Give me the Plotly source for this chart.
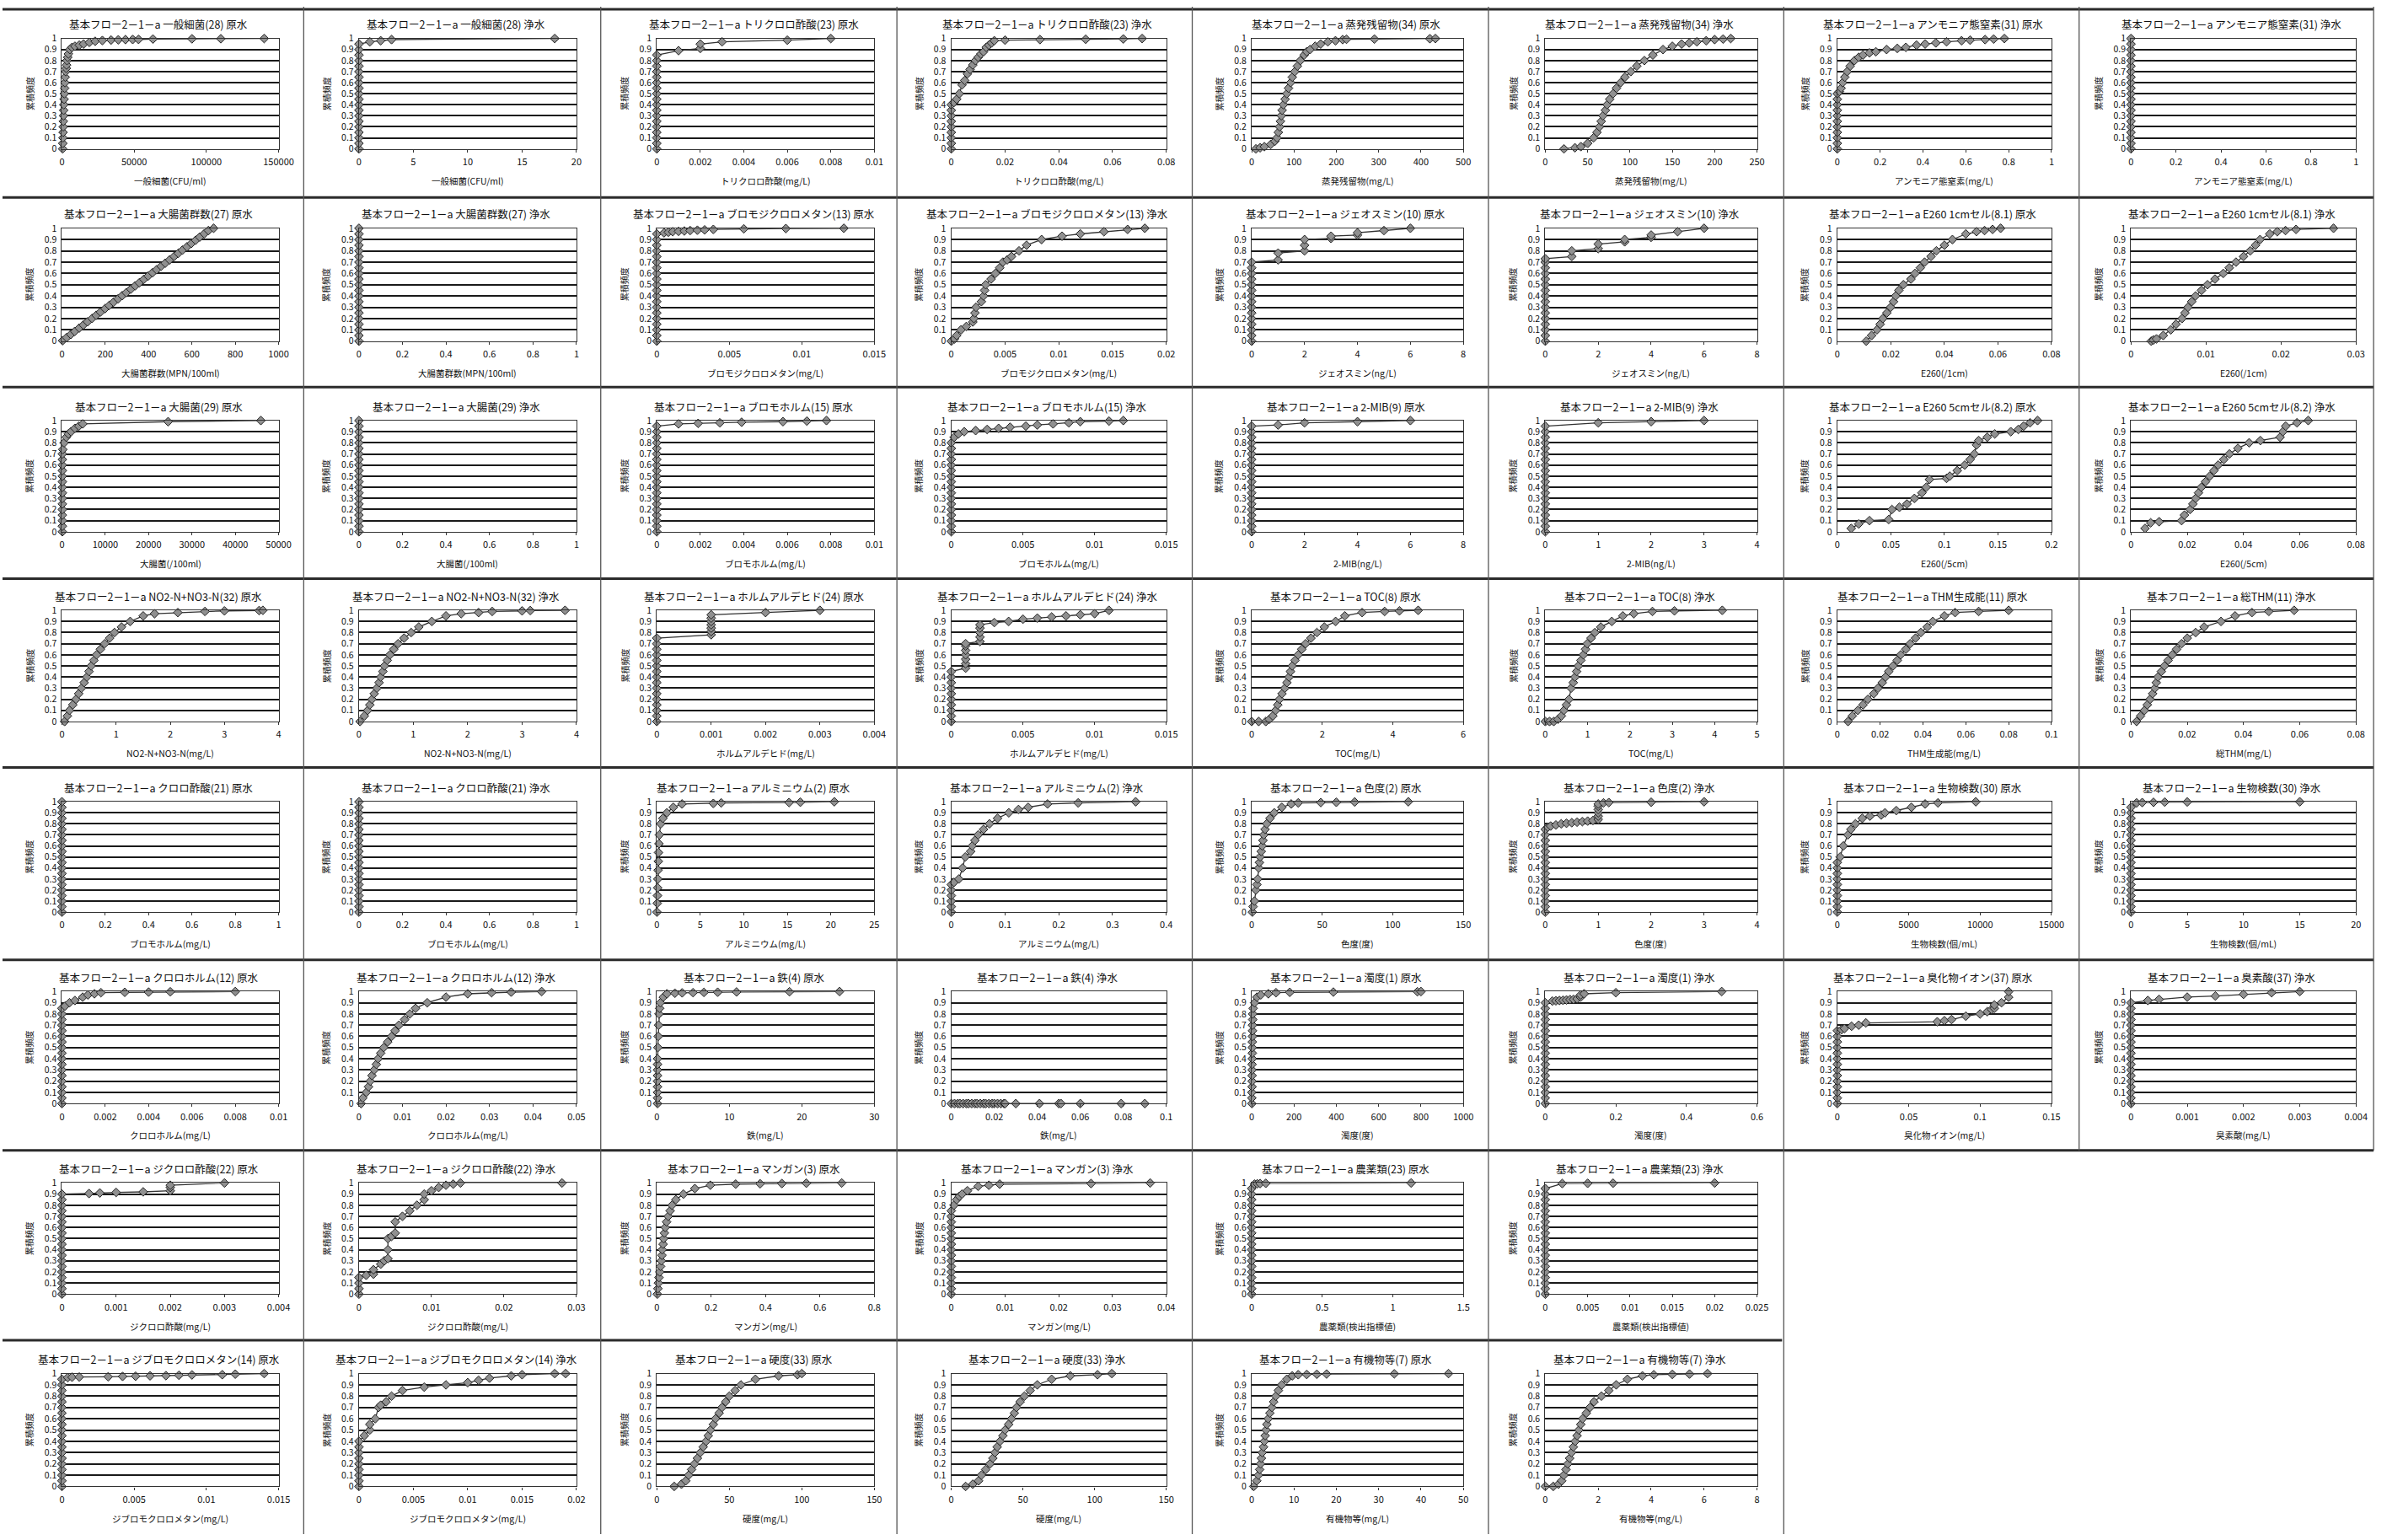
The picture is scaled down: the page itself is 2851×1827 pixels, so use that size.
import plotly.graph_objects as go

# ---------------- DATA ----------------
PREFIX = "基本フロー2－1－a "

TITLES = [
    "一般細菌(28) 原水", "一般細菌(28) 浄水", "トリクロロ酢酸(23) 原水", "トリクロロ酢酸(23) 浄水",
    "蒸発残留物(34) 原水", "蒸発残留物(34) 浄水", "アンモニア態窒素(31) 原水", "アンモニア態窒素(31) 浄水",
    "大腸菌群数(27) 原水", "大腸菌群数(27) 浄水", "ブロモジクロロメタン(13) 原水", "ブロモジクロロメタン(13) 浄水",
    "ジェオスミン(10) 原水", "ジェオスミン(10) 浄水", "E260 1cmセル(8.1) 原水", "E260 1cmセル(8.1) 浄水",
    "大腸菌(29) 原水", "大腸菌(29) 浄水", "ブロモホルム(15) 原水", "ブロモホルム(15) 浄水",
    "2-MIB(9) 原水", "2-MIB(9) 浄水", "E260 5cmセル(8.2) 原水", "E260 5cmセル(8.2) 浄水",
    "NO2-N+NO3-N(32) 原水", "NO2-N+NO3-N(32) 浄水", "ホルムアルデヒド(24) 原水", "ホルムアルデヒド(24) 浄水",
    "TOC(8) 原水", "TOC(8) 浄水", "THM生成能(11) 原水", "総THM(11) 浄水",
    "クロロ酢酸(21) 原水", "クロロ酢酸(21) 浄水", "アルミニウム(2) 原水", "アルミニウム(2) 浄水",
    "色度(2) 原水", "色度(2) 浄水", "生物検数(30) 原水", "生物検数(30) 浄水",
    "クロロホルム(12) 原水", "クロロホルム(12) 浄水", "鉄(4) 原水", "鉄(4) 浄水",
    "濁度(1) 原水", "濁度(1) 浄水", "臭化物イオン(37) 原水", "臭素酸(37) 浄水",
    "ジクロロ酢酸(22) 原水", "ジクロロ酢酸(22) 浄水", "マンガン(3) 原水", "マンガン(3) 浄水",
    "農薬類(23) 原水", "農薬類(23) 浄水",
    "ジブロモクロロメタン(14) 原水", "ジブロモクロロメタン(14) 浄水", "硬度(33) 原水", "硬度(33) 浄水",
    "有機物等(7) 原水", "有機物等(7) 浄水",
]

XLABELS = [
    "一般細菌(CFU/ml)", "一般細菌(CFU/ml)", "トリクロロ酢酸(mg/L)", "トリクロロ酢酸(mg/L)",
    "蒸発残留物(mg/L)", "蒸発残留物(mg/L)", "アンモニア態窒素(mg/L)", "アンモニア態窒素(mg/L)",
    "大腸菌群数(MPN/100ml)", "大腸菌群数(MPN/100ml)", "ブロモジクロロメタン(mg/L)", "ブロモジクロロメタン(mg/L)",
    "ジェオスミン(ng/L)", "ジェオスミン(ng/L)", "E260(/1cm)", "E260(/1cm)",
    "大腸菌(/100ml)", "大腸菌(/100ml)", "ブロモホルム(mg/L)", "ブロモホルム(mg/L)",
    "2-MIB(ng/L)", "2-MIB(ng/L)", "E260(/5cm)", "E260(/5cm)",
    "NO2-N+NO3-N(mg/L)", "NO2-N+NO3-N(mg/L)", "ホルムアルデヒド(mg/L)", "ホルムアルデヒド(mg/L)",
    "TOC(mg/L)", "TOC(mg/L)", "THM生成能(mg/L)", "総THM(mg/L)",
    "ブロモホルム(mg/L)", "ブロモホルム(mg/L)", "アルミニウム(mg/L)", "アルミニウム(mg/L)",
    "色度(度)", "色度(度)", "生物検数(個/mL)", "生物検数(個/mL)",
    "クロロホルム(mg/L)", "クロロホルム(mg/L)", "鉄(mg/L)", "鉄(mg/L)",
    "濁度(度)", "濁度(度)", "臭化物イオン(mg/L)", "臭素酸(mg/L)",
    "ジクロロ酢酸(mg/L)", "ジクロロ酢酸(mg/L)", "マンガン(mg/L)", "マンガン(mg/L)",
    "農薬類(検出指標値)", "農薬類(検出指標値)",
    "ジブロモクロロメタン(mg/L)", "ジブロモクロロメタン(mg/L)", "硬度(mg/L)", "硬度(mg/L)",
    "有機物等(mg/L)", "有機物等(mg/L)",
]

XMAX = [
    150000, 20, 0.01, 0.08, 500, 250, 1, 1,
    1000, 1, 0.015, 0.02, 8, 8, 0.08, 0.03,
    50000, 1, 0.01, 0.015, 8, 4, 0.2, 0.08,
    4, 4, 0.004, 0.015, 6, 5, 0.1, 0.08,
    1, 1, 25, 0.4, 150, 4, 15000, 20,
    0.01, 0.05, 30, 0.1, 1000, 0.6, 0.15, 0.004,
    0.004, 0.03, 0.8, 0.04, 1.5, 0.025,
    0.015, 0.02, 150, 150, 50, 8,
]

XDTICK = [
    50000, 5, 0.002, 0.02, 100, 50, 0.2, 0.2,
    200, 0.2, 0.005, 0.005, 2, 2, 0.02, 0.01,
    10000, 0.2, 0.002, 0.005, 2, 1, 0.05, 0.02,
    1, 1, 0.001, 0.005, 2, 1, 0.02, 0.02,
    0.2, 0.2, 5, 0.1, 50, 1, 5000, 5,
    0.002, 0.01, 10, 0.02, 200, 0.2, 0.05, 0.001,
    0.001, 0.01, 0.2, 0.01, 0.5, 0.005,
    0.005, 0.005, 50, 50, 10, 2,
]

# ---- row 1 ----
R1C1_X = [500, 600, 700, 800, 900, 1000, 1100, 1200, 1300, 1500, 1700, 1900, 2100, 2300, 2600, 3000, 3200, 3500, 4000, 4500,
          5500, 7000, 9000, 12000, 15000, 19000, 23000, 28000, 34000, 39000, 44000, 49000, 53000, 63000, 90000, 110000, 140000]
R1C1_Y = [0.0, 0.05, 0.1, 0.15, 0.2, 0.25, 0.3, 0.35, 0.4, 0.45, 0.5, 0.55, 0.6, 0.65, 0.7, 0.73, 0.76, 0.8, 0.83, 0.86,
          0.9, 0.92, 0.93, 0.94, 0.95, 0.965, 0.975, 0.982, 0.986, 0.988, 0.99, 0.991, 0.992, 0.995, 0.997, 0.998, 1.0]

R1C2_X = [0, 0, 0, 0, 0, 0, 0, 0, 0, 0, 0, 0, 0, 0, 0, 0, 0, 0, 0, 0, 1, 2, 3, 18]
R1C2_Y = [0.0, 0.05, 0.1, 0.15, 0.2, 0.25, 0.3, 0.35, 0.4, 0.45, 0.5, 0.55, 0.6, 0.65, 0.7, 0.75, 0.8, 0.85, 0.9, 0.95,
          0.97, 0.98, 0.99, 1.0]

R1C3_X = [0, 0, 0, 0, 0, 0, 0, 0, 0, 0, 0, 0, 0, 0, 0, 0, 0, 0, 0.001, 0.002, 0.002, 0.003, 0.006, 0.008]
R1C3_Y = [0.0, 0.05, 0.1, 0.15, 0.2, 0.25, 0.3, 0.35, 0.4, 0.45, 0.5, 0.55, 0.6, 0.65, 0.7, 0.75, 0.8, 0.85,
          0.89, 0.91, 0.95, 0.97, 0.985, 1.0]

R1C4_X = [0, 0, 0, 0, 0, 0, 0, 0, 0, 0.001, 0.002, 0.003, 0.004, 0.005, 0.006, 0.007, 0.008, 0.009, 0.01, 0.011,
          0.012, 0.013, 0.014, 0.015, 0.016, 0.02, 0.033, 0.05, 0.064, 0.071]
R1C4_Y = [0.0, 0.05, 0.1, 0.15, 0.2, 0.25, 0.3, 0.35, 0.4, 0.42, 0.45, 0.5, 0.58, 0.62, 0.68, 0.72, 0.76, 0.8, 0.83, 0.86,
          0.88, 0.92, 0.94, 0.96, 0.98, 0.985, 0.99, 0.993, 0.996, 1.0]

R1C5_X = [10, 20, 30, 45, 55, 60, 63, 66, 68, 70, 72, 75, 79, 83, 87, 92, 96, 102, 108, 115,
          124, 130, 138, 150, 163, 180, 198, 215, 224, 290, 421, 434]
R1C5_Y = [0.0, 0.01, 0.02, 0.04, 0.07, 0.1, 0.15, 0.2, 0.25, 0.3, 0.35, 0.4, 0.45, 0.5, 0.55, 0.6, 0.65, 0.7, 0.75, 0.8,
          0.85, 0.88, 0.9, 0.93, 0.95, 0.97, 0.98, 0.99, 0.993, 0.995, 0.998, 1.0]

R1C6_X = [22, 35, 42, 50, 57, 61, 64, 66, 68, 71, 73, 76, 80, 84, 89, 94, 101, 108, 117, 127,
          139, 150, 161, 170, 179, 190, 200, 210, 219]
R1C6_Y = [0.0, 0.01, 0.02, 0.05, 0.1, 0.15, 0.2, 0.25, 0.3, 0.35, 0.4, 0.45, 0.5, 0.55, 0.6, 0.65, 0.7, 0.75, 0.8, 0.85,
          0.9, 0.93, 0.95, 0.96, 0.97, 0.98, 0.99, 0.995, 1.0]

R1C7_X = [0, 0, 0, 0, 0, 0, 0, 0, 0, 0, 0, 0.01, 0.018, 0.025, 0.035, 0.046, 0.06, 0.08, 0.1, 0.12,
          0.15, 0.18, 0.23, 0.28, 0.32, 0.37, 0.41, 0.46, 0.51, 0.58, 0.62, 0.69, 0.73, 0.78]
R1C7_Y = [0.0, 0.05, 0.1, 0.15, 0.2, 0.25, 0.3, 0.35, 0.4, 0.45, 0.5, 0.52, 0.55, 0.6, 0.65, 0.7, 0.75, 0.8, 0.83, 0.85,
          0.87, 0.88, 0.9, 0.91, 0.92, 0.94, 0.95, 0.96, 0.97, 0.98, 0.985, 0.99, 0.995, 1.0]

R1C8_X = [0, 0, 0, 0, 0, 0, 0, 0, 0, 0, 0, 0, 0, 0, 0, 0, 0, 0, 0, 0, 0]
R1C8_Y = [0.0, 0.05, 0.1, 0.15, 0.2, 0.25, 0.3, 0.35, 0.4, 0.45, 0.5, 0.55, 0.6, 0.65, 0.7, 0.75, 0.8, 0.85, 0.9, 0.95, 1.0]

# ---- row 2 ----
R2C1_X = [3, 22, 41, 59, 80, 99, 118, 139, 158, 178, 199, 218, 238, 259, 278, 297, 318, 338, 357, 378,
          398, 418, 437, 458, 477, 497, 518, 537, 556, 577, 597, 617, 636, 657, 676, 700]
R2C1_Y = [0.004, 0.032, 0.059, 0.086, 0.116, 0.143, 0.171, 0.201, 0.229, 0.258, 0.288, 0.316, 0.345, 0.375, 0.403, 0.43,
          0.461, 0.49, 0.517, 0.548, 0.577, 0.606, 0.633, 0.664, 0.691, 0.72, 0.751, 0.778, 0.806, 0.836,
          0.865, 0.894, 0.922, 0.952, 0.98, 1.0]

R2C2_X = [0, 0, 0, 0, 0, 0, 0, 0, 0, 0, 0, 0, 0, 0, 0, 0, 0, 0, 0, 0, 0]
R2C2_Y = [0.0, 0.05, 0.1, 0.15, 0.2, 0.25, 0.3, 0.35, 0.4, 0.45, 0.5, 0.55, 0.6, 0.65, 0.7, 0.75, 0.8, 0.85, 0.9, 0.95, 1.0]

R2C3_X = [0, 0, 0, 0, 0, 0, 0, 0, 0, 0, 0, 0, 0, 0, 0, 0, 0, 0, 0, 0,
          0.0005, 0.0008, 0.0011, 0.0015, 0.0019, 0.0023, 0.0028, 0.0033, 0.0039, 0.006, 0.0089, 0.0129]
R2C3_Y = [0.0, 0.05, 0.1, 0.15, 0.2, 0.25, 0.3, 0.35, 0.4, 0.45, 0.5, 0.55, 0.6, 0.65, 0.7, 0.75, 0.8, 0.85, 0.9, 0.95,
          0.96, 0.965, 0.97, 0.973, 0.976, 0.98, 0.983, 0.986, 0.99, 0.995, 0.998, 1.0]

R2C4_X = [0, 0.0003, 0.0005, 0.0009, 0.0014, 0.002, 0.0021, 0.0022, 0.0023, 0.0028, 0.003, 0.0031, 0.0032, 0.0037, 0.0041,
          0.0045, 0.0048, 0.0052, 0.0056, 0.0063, 0.007, 0.0084, 0.0103, 0.012, 0.0142, 0.0164, 0.018]
R2C4_Y = [0.0, 0.02, 0.05, 0.1, 0.13, 0.17, 0.2, 0.25, 0.3, 0.35, 0.4, 0.45, 0.5, 0.55, 0.6,
          0.65, 0.7, 0.72, 0.75, 0.8, 0.85, 0.9, 0.93, 0.95, 0.97, 0.99, 1.0]

R2C5_X = [0, 0, 0, 0, 0, 0, 0, 0, 0, 0, 0, 0, 0, 0, 0, 1, 1, 2, 2, 2, 3, 3, 4, 4, 5, 6]
R2C5_Y = [0.0, 0.05, 0.1, 0.15, 0.2, 0.25, 0.3, 0.35, 0.4, 0.45, 0.5, 0.55, 0.6, 0.65, 0.7,
          0.72, 0.78, 0.8, 0.85, 0.9, 0.91, 0.93, 0.94, 0.96, 0.98, 1.0]

R2C6_X = [0, 0, 0, 0, 0, 0, 0, 0, 0, 0, 0, 0, 0, 0, 0, 0, 1, 1, 2, 2, 3, 3, 4, 4, 5, 6]
R2C6_Y = [0.0, 0.05, 0.1, 0.15, 0.2, 0.25, 0.3, 0.35, 0.4, 0.45, 0.5, 0.55, 0.6, 0.65, 0.7, 0.73,
          0.75, 0.8, 0.82, 0.86, 0.88, 0.9, 0.92, 0.94, 0.97, 1.0]

R2C7_X = [0.0108, 0.0128, 0.0148, 0.016, 0.017, 0.0185, 0.0199, 0.021, 0.0218, 0.023, 0.0247, 0.0275, 0.029, 0.031,
          0.0326, 0.035, 0.037, 0.04, 0.043, 0.048, 0.052, 0.055, 0.058, 0.061]
R2C7_Y = [0.0, 0.05, 0.1, 0.15, 0.2, 0.25, 0.3, 0.35, 0.4, 0.45, 0.5, 0.55, 0.6, 0.65,
          0.7, 0.75, 0.8, 0.85, 0.9, 0.95, 0.97, 0.98, 0.99, 1.0]

R2C8_X = [0.0027, 0.003, 0.0034, 0.0043, 0.0053, 0.006, 0.0068, 0.0072, 0.0076, 0.0081, 0.0086, 0.0094, 0.0102,
          0.0112, 0.0123, 0.0131, 0.014, 0.015, 0.0159, 0.0166, 0.0172, 0.0185, 0.0195, 0.0206, 0.022, 0.027]
R2C8_Y = [0.0, 0.01, 0.02, 0.05, 0.1, 0.15, 0.2, 0.25, 0.3, 0.35, 0.4, 0.45, 0.5,
          0.55, 0.6, 0.65, 0.7, 0.75, 0.8, 0.85, 0.9, 0.95, 0.97, 0.98, 0.99, 1.0]

# ---- row 3 ----
R3C1_X = [100, 100, 100, 100, 100, 100, 100, 100, 100, 100, 100, 100, 100, 100, 100,
          200, 500, 1000, 1500, 2100, 3000, 3900, 4800, 24500, 45900]
R3C1_Y = [0.0, 0.05, 0.1, 0.15, 0.2, 0.25, 0.3, 0.35, 0.4, 0.45, 0.5, 0.55, 0.6, 0.65, 0.7,
          0.74, 0.8, 0.85, 0.88, 0.9, 0.93, 0.95, 0.97, 0.99, 1.0]

R3C2_X = [0, 0, 0, 0, 0, 0, 0, 0, 0, 0, 0, 0, 0, 0, 0, 0, 0, 0, 0, 0, 0]
R3C2_Y = [0.0, 0.05, 0.1, 0.15, 0.2, 0.25, 0.3, 0.35, 0.4, 0.45, 0.5, 0.55, 0.6, 0.65, 0.7, 0.75, 0.8, 0.85, 0.9, 0.95, 1.0]

R3C3_X = [0, 0, 0, 0, 0, 0, 0, 0, 0, 0, 0, 0, 0, 0, 0, 0, 0, 0, 0, 0,
          0.001, 0.0019, 0.0029, 0.0039, 0.0058, 0.0069, 0.0078]
R3C3_Y = [0.0, 0.05, 0.1, 0.15, 0.2, 0.25, 0.3, 0.35, 0.4, 0.45, 0.5, 0.55, 0.6, 0.65, 0.7, 0.75, 0.8, 0.85, 0.9, 0.95,
          0.97, 0.975, 0.98, 0.985, 0.99, 0.995, 1.0]

R3C4_X = [0, 0, 0, 0, 0, 0, 0, 0, 0, 0, 0, 0, 0, 0, 0, 0, 0,
          0.0002, 0.0005, 0.0009, 0.0017, 0.0025, 0.0033, 0.0041, 0.0052, 0.006, 0.0071, 0.0082, 0.009, 0.011, 0.012]
R3C4_Y = [0.0, 0.05, 0.1, 0.15, 0.2, 0.25, 0.3, 0.35, 0.4, 0.45, 0.5, 0.55, 0.6, 0.65, 0.7, 0.75, 0.8,
          0.85, 0.88, 0.9, 0.91, 0.92, 0.93, 0.94, 0.95, 0.96, 0.97, 0.98, 0.99, 0.995, 1.0]

R3C5_X = [0, 0, 0, 0, 0, 0, 0, 0, 0, 0, 0, 0, 0, 0, 0, 0, 0, 0, 0, 0, 1, 2, 4, 6]
R3C5_Y = [0.0, 0.05, 0.1, 0.15, 0.2, 0.25, 0.3, 0.35, 0.4, 0.45, 0.5, 0.55, 0.6, 0.65, 0.7, 0.75, 0.8, 0.85, 0.9, 0.95,
          0.96, 0.98, 0.99, 1.0]

R3C6_X = [0, 0, 0, 0, 0, 0, 0, 0, 0, 0, 0, 0, 0, 0, 0, 0, 0, 0, 0, 0, 1, 2, 3]
R3C6_Y = [0.0, 0.05, 0.1, 0.15, 0.2, 0.25, 0.3, 0.35, 0.4, 0.45, 0.5, 0.55, 0.6, 0.65, 0.7, 0.75, 0.8, 0.85, 0.9, 0.95,
          0.98, 0.99, 1.0]

R3C7_X = [0.013, 0.02, 0.03, 0.048, 0.051, 0.058, 0.065, 0.072, 0.079, 0.083, 0.086, 0.102, 0.105, 0.112, 0.119,
          0.124, 0.128, 0.13, 0.132, 0.14, 0.147, 0.162, 0.169, 0.174, 0.18, 0.187]
R3C7_Y = [0.03, 0.07, 0.1, 0.11, 0.2, 0.22, 0.25, 0.3, 0.35, 0.4, 0.47, 0.48, 0.5, 0.55, 0.6,
          0.65, 0.7, 0.78, 0.82, 0.85, 0.88, 0.9, 0.92, 0.95, 0.98, 1.0]

R3C8_X = [0.005, 0.007, 0.01, 0.018, 0.019, 0.021, 0.022, 0.023, 0.024, 0.025, 0.0265, 0.028, 0.0295, 0.031, 0.033,
          0.035, 0.038, 0.042, 0.046, 0.053, 0.054, 0.055, 0.059, 0.063]
R3C8_Y = [0.03, 0.08, 0.09, 0.1, 0.15, 0.2, 0.25, 0.3, 0.35, 0.4, 0.45, 0.5, 0.55, 0.6, 0.65,
          0.7, 0.75, 0.8, 0.82, 0.85, 0.9, 0.95, 0.98, 1.0]

# ---- row 4 ----
R4C1_X = [0.05, 0.1, 0.14, 0.2, 0.26, 0.31, 0.36, 0.41, 0.46, 0.5, 0.54, 0.59, 0.64, 0.71, 0.79, 0.88, 0.97, 1.1,
          1.26, 1.5, 1.71, 2.14, 2.64, 3.0, 3.64, 3.71]
R4C1_Y = [0.0, 0.05, 0.1, 0.15, 0.2, 0.25, 0.3, 0.35, 0.4, 0.45, 0.5, 0.55, 0.6, 0.65, 0.7, 0.75, 0.8, 0.85,
          0.9, 0.95, 0.97, 0.98, 0.99, 0.995, 0.998, 1.0]

R4C2_X = [0.02, 0.1, 0.16, 0.2, 0.24, 0.28, 0.33, 0.37, 0.4, 0.44, 0.47, 0.52, 0.57, 0.64, 0.72, 0.83, 0.96, 1.1,
          1.34, 1.6, 1.88, 2.2, 2.45, 3.0, 3.15, 3.79]
R4C2_Y = [0.0, 0.05, 0.1, 0.15, 0.2, 0.25, 0.3, 0.35, 0.4, 0.45, 0.5, 0.55, 0.6, 0.65, 0.7, 0.75, 0.8, 0.85,
          0.9, 0.95, 0.97, 0.98, 0.99, 0.995, 0.998, 1.0]

R4C3_X = [0, 0, 0, 0, 0, 0, 0, 0, 0, 0, 0, 0, 0, 0, 0, 0,
          0.001, 0.001, 0.001, 0.001, 0.001, 0.001, 0.001, 0.002, 0.003]
R4C3_Y = [0.0, 0.05, 0.1, 0.15, 0.2, 0.25, 0.3, 0.35, 0.4, 0.45, 0.5, 0.55, 0.6, 0.65, 0.7, 0.75,
          0.78, 0.81, 0.84, 0.87, 0.9, 0.93, 0.96, 0.98, 1.0]

R4C4_X = [0, 0, 0, 0, 0, 0, 0, 0, 0, 0,
          0.001, 0.001, 0.001, 0.001, 0.001, 0.001, 0.001, 0.002, 0.002, 0.002, 0.002, 0.002,
          0.003, 0.004, 0.005, 0.006, 0.007, 0.008, 0.009, 0.01, 0.011]
R4C4_Y = [0.0, 0.05, 0.1, 0.15, 0.2, 0.25, 0.3, 0.35, 0.4, 0.45,
          0.48, 0.52, 0.56, 0.6, 0.64, 0.68, 0.7, 0.72, 0.76, 0.8, 0.84, 0.87,
          0.89, 0.9, 0.92, 0.93, 0.94, 0.95, 0.96, 0.97, 1.0]

R4C5_X = [0, 0.2, 0.4, 0.5, 0.6, 0.68, 0.74, 0.79, 0.86, 0.94, 1.0, 1.06, 1.1, 1.15, 1.23, 1.32, 1.42, 1.53, 1.68,
          1.85, 2.06, 2.38, 2.64, 3.13, 3.77, 4.19, 4.72]
R4C5_Y = [0.0, 0.0, 0.0, 0.02, 0.05, 0.1, 0.15, 0.2, 0.25, 0.3, 0.35, 0.4, 0.45, 0.5, 0.55, 0.6, 0.65, 0.7, 0.75,
          0.8, 0.85, 0.9, 0.95, 0.98, 0.99, 0.995, 1.0]

R4C6_X = [0, 0.1, 0.2, 0.3, 0.38, 0.44, 0.5, 0.56, 0.61, 0.66, 0.7, 0.74, 0.78, 0.84, 0.9, 0.95, 0.99, 1.08, 1.17,
          1.31, 1.57, 1.83, 2.09, 2.53, 3.05, 4.18]
R4C6_Y = [0.0, 0.0, 0.0, 0.02, 0.05, 0.1, 0.15, 0.2, 0.3, 0.35, 0.4, 0.45, 0.5, 0.55, 0.6, 0.65, 0.7, 0.75, 0.8,
          0.85, 0.9, 0.95, 0.97, 0.99, 0.995, 1.0]

R4C7_X = [0.005, 0.007, 0.0096, 0.012, 0.0143, 0.017, 0.019, 0.021, 0.0225, 0.024, 0.026, 0.028, 0.0296, 0.032,
          0.034, 0.0365, 0.039, 0.042, 0.0446, 0.05, 0.055, 0.066, 0.08]
R4C7_Y = [0.0, 0.05, 0.1, 0.15, 0.2, 0.25, 0.3, 0.35, 0.4, 0.45, 0.5, 0.55, 0.6, 0.65,
          0.7, 0.75, 0.8, 0.85, 0.9, 0.95, 0.98, 0.99, 1.0]

R4C8_X = [0.002, 0.0034, 0.0048, 0.0058, 0.0068, 0.0077, 0.0085, 0.009, 0.0096, 0.0108, 0.0119, 0.0132, 0.0147,
          0.0162, 0.018, 0.02, 0.023, 0.026, 0.032, 0.037, 0.043, 0.049, 0.058]
R4C8_Y = [0.0, 0.05, 0.1, 0.15, 0.2, 0.25, 0.3, 0.35, 0.4, 0.45, 0.5, 0.55, 0.6,
          0.65, 0.7, 0.75, 0.8, 0.85, 0.9, 0.95, 0.98, 0.99, 1.0]

# ---- row 5 ----
R5C1_X = [0, 0, 0, 0, 0, 0, 0, 0, 0, 0, 0, 0, 0, 0, 0, 0, 0, 0, 0, 0, 0]
R5C1_Y = [0.0, 0.05, 0.1, 0.15, 0.2, 0.25, 0.3, 0.35, 0.4, 0.45, 0.5, 0.55, 0.6, 0.65, 0.7, 0.75, 0.8, 0.85, 0.9, 0.95, 1.0]

R5C2_X = [0, 0, 0, 0, 0, 0, 0, 0, 0, 0, 0, 0, 0, 0, 0, 0, 0, 0, 0, 0, 0]
R5C2_Y = [0.0, 0.05, 0.1, 0.15, 0.2, 0.25, 0.3, 0.35, 0.4, 0.45, 0.5, 0.55, 0.6, 0.65, 0.7, 0.75, 0.8, 0.85, 0.9, 0.95, 1.0]

R5C3_X = [0.02, 0.05, 0.08, 0.1, 0.12, 0.15, 0.18, 0.2, 0.25, 0.3, 0.45, 0.7, 1.16, 1.9, 2.9, 6.5, 7.4, 15.2, 16.5, 20.4]
R5C3_Y = [0.0, 0.08, 0.15, 0.22, 0.3, 0.38, 0.46, 0.54, 0.62, 0.7, 0.8, 0.85, 0.9, 0.95, 0.98, 0.985, 0.99, 0.993,
          0.996, 1.0]

R5C4_X = [0, 0, 0, 0, 0, 0, 0.005, 0.014, 0.021, 0.026, 0.036, 0.039, 0.044, 0.05, 0.06, 0.071, 0.086, 0.107, 0.125,
          0.143, 0.179, 0.236, 0.343]
R5C4_Y = [0.0, 0.05, 0.1, 0.15, 0.2, 0.25, 0.27, 0.3, 0.4, 0.5, 0.55, 0.6, 0.65, 0.7, 0.75, 0.8, 0.85, 0.9, 0.93,
          0.95, 0.98, 0.99, 1.0]

R5C5_X = [0.5, 1, 2, 3, 3.7, 4.3, 5, 5.5, 6, 6.8, 7.5, 8, 8.6, 9.5, 10.7, 13, 16, 21.4, 28, 33, 49, 60, 73, 111]
R5C5_Y = [0.0, 0.05, 0.1, 0.2, 0.25, 0.3, 0.4, 0.45, 0.5, 0.55, 0.6, 0.65, 0.7, 0.75, 0.8, 0.85, 0.9, 0.95, 0.98,
          0.99, 0.993, 0.995, 0.998, 1.0]

R5C6_X = [0, 0, 0, 0, 0, 0, 0, 0, 0, 0, 0, 0, 0, 0, 0, 0,
          0.05, 0.1, 0.2, 0.3, 0.4, 0.5, 0.6, 0.7, 0.8, 0.9, 1.0, 1.0, 1.0, 1.0, 1.0, 1.0, 1.1, 1.2, 2.0, 3.0]
R5C6_Y = [0.0, 0.05, 0.1, 0.15, 0.2, 0.25, 0.3, 0.35, 0.4, 0.45, 0.5, 0.55, 0.6, 0.65, 0.7, 0.75,
          0.77, 0.78, 0.79, 0.8, 0.805, 0.81, 0.815, 0.82, 0.825, 0.83, 0.84, 0.87, 0.9, 0.93, 0.96, 0.98,
          0.99, 0.993, 0.996, 1.0]

R5C7_X = [0, 0, 0, 0, 0, 0, 0, 0, 0, 0,
          200, 420, 740, 950, 1270, 1750, 2280, 3070, 3340, 4130, 5190, 6150, 7050, 9700]
R5C7_Y = [0.0, 0.05, 0.1, 0.15, 0.2, 0.25, 0.3, 0.35, 0.4, 0.45,
          0.5, 0.6, 0.7, 0.75, 0.8, 0.85, 0.87, 0.88, 0.9, 0.92, 0.95, 0.98, 0.99, 1.0]

R5C8_X = [0, 0, 0, 0, 0, 0, 0, 0, 0, 0, 0, 0, 0, 0, 0, 0, 0, 0, 0, 0, 0.5, 1, 2, 3, 5, 15]
R5C8_Y = [0.0, 0.05, 0.1, 0.15, 0.2, 0.25, 0.3, 0.35, 0.4, 0.45, 0.5, 0.55, 0.6, 0.65, 0.7, 0.75, 0.8, 0.85, 0.9, 0.95,
          0.99, 0.993, 0.995, 0.997, 0.998, 1.0]

# ---- row 6 ----
R6C1_X = [0, 0, 0, 0, 0, 0, 0, 0, 0, 0, 0, 0, 0, 0, 0, 0, 0, 0,
          0.00014, 0.00035, 0.0006, 0.00096, 0.0012, 0.0015, 0.0018, 0.0029, 0.004, 0.005, 0.008]
R6C1_Y = [0.0, 0.05, 0.1, 0.15, 0.2, 0.25, 0.3, 0.35, 0.4, 0.45, 0.5, 0.55, 0.6, 0.65, 0.7, 0.75, 0.8, 0.85,
          0.87, 0.9, 0.92, 0.95, 0.97, 0.98, 0.99, 0.993, 0.995, 0.998, 1.0]

R6C2_X = [0.0005, 0.0009, 0.0017, 0.0022, 0.0026, 0.003, 0.0035, 0.004, 0.0044, 0.005, 0.0057, 0.0066, 0.0075,
          0.0083, 0.0092, 0.0105, 0.0117, 0.013, 0.0157, 0.02, 0.025, 0.0305, 0.035, 0.042]
R6C2_Y = [0.0, 0.05, 0.1, 0.15, 0.2, 0.25, 0.3, 0.35, 0.4, 0.45, 0.5, 0.55, 0.6,
          0.65, 0.7, 0.75, 0.8, 0.85, 0.9, 0.95, 0.98, 0.99, 0.995, 1.0]

R6C3_X = [0.1, 0.1, 0.1, 0.1, 0.1, 0.1, 0.1, 0.1, 0.1, 0.15, 0.2, 0.25, 0.3, 0.4, 0.5, 0.9, 1.4, 2.5, 3.5, 5,
          6.5, 8.4, 11, 18.3, 25.2]
R6C3_Y = [0.0, 0.05, 0.1, 0.15, 0.2, 0.25, 0.3, 0.35, 0.4, 0.5, 0.6, 0.7, 0.8, 0.85, 0.9, 0.95, 0.98, 0.985, 0.988,
          0.99, 0.992, 0.994, 0.996, 0.998, 1.0]

R6C4_X = [0, 0.0015, 0.003, 0.004, 0.0055, 0.007, 0.008, 0.0095, 0.011, 0.012, 0.0135, 0.015, 0.016, 0.0175, 0.019,
          0.02, 0.0215, 0.023, 0.0245, 0.025, 0.03, 0.041, 0.05, 0.051, 0.06, 0.079, 0.09]
R6C4_Y = [0, 0, 0, 0, 0, 0, 0, 0, 0, 0, 0, 0, 0, 0, 0, 0, 0, 0, 0, 0, 0, 0, 0, 0, 0, 0, 0]

R6C5_X = [1, 1, 1, 2, 2, 2, 2, 2, 3, 3, 3, 3, 4, 4, 4, 5, 5, 7, 14, 25, 43, 79, 115, 180, 386, 783, 800]
R6C5_Y = [0.0, 0.05, 0.1, 0.15, 0.2, 0.25, 0.3, 0.35, 0.4, 0.45, 0.5, 0.55, 0.6, 0.65, 0.7, 0.75, 0.8,
          0.85, 0.9, 0.95, 0.97, 0.98, 0.99, 0.993, 0.995, 0.998, 1.0]

R6C6_X = [0, 0, 0, 0, 0, 0, 0, 0, 0, 0, 0, 0, 0, 0, 0, 0, 0, 0, 0,
          0.02, 0.03, 0.04, 0.05, 0.06, 0.07, 0.08, 0.09, 0.1, 0.1, 0.11, 0.2, 0.5]
R6C6_Y = [0.0, 0.05, 0.1, 0.15, 0.2, 0.25, 0.3, 0.35, 0.4, 0.45, 0.5, 0.55, 0.6, 0.65, 0.7, 0.75, 0.8, 0.85, 0.9,
          0.915, 0.917, 0.92, 0.922, 0.925, 0.928, 0.93, 0.935, 0.95, 0.97, 0.98, 0.99, 1.0]

R6C7_X = [0, 0, 0, 0, 0, 0, 0, 0, 0, 0, 0, 0, 0, 0,
          0.003, 0.005, 0.01, 0.015, 0.02, 0.07, 0.075, 0.08, 0.09, 0.1, 0.105, 0.108, 0.11, 0.11, 0.115, 0.12, 0.12]
R6C7_Y = [0.0, 0.05, 0.1, 0.15, 0.2, 0.25, 0.3, 0.35, 0.4, 0.45, 0.5, 0.55, 0.6, 0.65,
          0.66, 0.67, 0.69, 0.7, 0.72, 0.73, 0.74, 0.75, 0.78, 0.8, 0.82, 0.84, 0.85, 0.88, 0.9, 0.95, 1.0]

R6C8_X = [0, 0, 0, 0, 0, 0, 0, 0, 0, 0, 0, 0, 0, 0, 0, 0, 0, 0, 0,
          0.0003, 0.0005, 0.001, 0.0015, 0.002, 0.0025, 0.003]
R6C8_Y = [0.0, 0.05, 0.1, 0.15, 0.2, 0.25, 0.3, 0.35, 0.4, 0.45, 0.5, 0.55, 0.6, 0.65, 0.7, 0.75, 0.8, 0.85, 0.9,
          0.92, 0.93, 0.95, 0.96, 0.975, 0.99, 1.0]

# ---- row 7 ----
R7C1_X = [0, 0, 0, 0, 0, 0, 0, 0, 0, 0, 0, 0, 0, 0, 0, 0, 0, 0, 0,
          0.0005, 0.0007, 0.001, 0.0015, 0.002, 0.002, 0.002, 0.003]
R7C1_Y = [0.0, 0.05, 0.1, 0.15, 0.2, 0.25, 0.3, 0.35, 0.4, 0.45, 0.5, 0.55, 0.6, 0.65, 0.7, 0.75, 0.8, 0.85, 0.9,
          0.905, 0.91, 0.915, 0.92, 0.93, 0.96, 0.98, 1.0]

R7C2_X = [0, 0, 0, 0, 0.001, 0.002, 0.002, 0.003, 0.0035, 0.004, 0.004, 0.004, 0.0045, 0.005, 0.005, 0.006, 0.007,
          0.008, 0.009, 0.009, 0.01, 0.011, 0.012, 0.013, 0.014, 0.028]
R7C2_Y = [0.0, 0.05, 0.1, 0.15, 0.17, 0.18, 0.22, 0.27, 0.3, 0.32, 0.4, 0.5, 0.52, 0.55, 0.65, 0.7, 0.75,
          0.8, 0.85, 0.9, 0.93, 0.96, 0.98, 0.99, 1.0, 1.0]

R7C3_X = [0.002, 0.004, 0.006, 0.008, 0.011, 0.014, 0.017, 0.019, 0.02, 0.023, 0.025, 0.028, 0.031, 0.036, 0.042,
          0.049, 0.056, 0.07, 0.098, 0.14, 0.197, 0.29, 0.38, 0.46, 0.55, 0.68]
R7C3_Y = [0.0, 0.05, 0.1, 0.15, 0.2, 0.25, 0.3, 0.35, 0.4, 0.45, 0.5, 0.55, 0.6, 0.65, 0.7,
          0.75, 0.8, 0.85, 0.9, 0.95, 0.98, 0.99, 0.993, 0.995, 0.998, 1.0]

R7C4_X = [0, 0, 0, 0, 0, 0, 0, 0, 0, 0, 0, 0, 0, 0, 0, 0,
          0.0005, 0.001, 0.0015, 0.002, 0.003, 0.005, 0.007, 0.009, 0.026, 0.037]
R7C4_Y = [0.0, 0.05, 0.1, 0.15, 0.2, 0.25, 0.3, 0.35, 0.4, 0.45, 0.5, 0.55, 0.6, 0.65, 0.7, 0.75,
          0.8, 0.85, 0.88, 0.9, 0.93, 0.97, 0.98, 0.99, 0.995, 1.0]

R7C5_X = [0, 0, 0, 0, 0, 0, 0, 0, 0, 0, 0, 0, 0, 0, 0, 0, 0, 0, 0, 0, 0.02, 0.04, 0.06, 0.1, 1.13]
R7C5_Y = [0.0, 0.05, 0.1, 0.15, 0.2, 0.25, 0.3, 0.35, 0.4, 0.45, 0.5, 0.55, 0.6, 0.65, 0.7, 0.75, 0.8, 0.85, 0.9, 0.95,
          0.99, 0.993, 0.995, 0.997, 1.0]

R7C6_X = [0, 0, 0, 0, 0, 0, 0, 0, 0, 0, 0, 0, 0, 0, 0, 0, 0, 0, 0, 0, 0.002, 0.005, 0.008, 0.02]
R7C6_Y = [0.0, 0.05, 0.1, 0.15, 0.2, 0.25, 0.3, 0.35, 0.4, 0.45, 0.5, 0.55, 0.6, 0.65, 0.7, 0.75, 0.8, 0.85, 0.9, 0.95,
          0.995, 0.997, 0.998, 1.0]

# ---- row 8 ----
R8C1_X = [0, 0, 0, 0, 0, 0, 0, 0, 0, 0, 0, 0, 0, 0, 0, 0, 0, 0, 0, 0,
          0.0004, 0.0007, 0.0012, 0.0032, 0.0042, 0.0051, 0.0061, 0.0072, 0.0081, 0.009, 0.0111, 0.012, 0.014]
R8C1_Y = [0.0, 0.05, 0.1, 0.15, 0.2, 0.25, 0.3, 0.35, 0.4, 0.45, 0.5, 0.55, 0.6, 0.65, 0.7, 0.75, 0.8, 0.85, 0.9, 0.95,
          0.965, 0.968, 0.97, 0.972, 0.975, 0.977, 0.98, 0.982, 0.985, 0.988, 0.99, 0.995, 1.0]

R8C2_X = [0, 0, 0, 0, 0, 0, 0, 0, 0,
          0.0005, 0.001, 0.001, 0.0015, 0.0018, 0.002, 0.0025, 0.003, 0.004, 0.006, 0.008, 0.01, 0.011, 0.012,
          0.014, 0.015, 0.018, 0.019]
R8C2_Y = [0.0, 0.05, 0.1, 0.15, 0.2, 0.25, 0.3, 0.35, 0.4,
          0.45, 0.5, 0.55, 0.6, 0.7, 0.72, 0.75, 0.8, 0.85, 0.88, 0.9, 0.92, 0.94, 0.96,
          0.98, 0.99, 1.0, 1.0]

R8C3_X = [12, 17, 20, 22, 24, 26, 28, 30, 32, 34, 35.5, 37, 39, 40.5, 43, 45, 47.5, 50, 54, 58, 68, 84, 97, 100]
R8C3_Y = [0.0, 0.02, 0.05, 0.1, 0.15, 0.2, 0.25, 0.3, 0.35, 0.4, 0.45, 0.5, 0.55, 0.6, 0.65, 0.7, 0.75, 0.8,
          0.85, 0.9, 0.95, 0.98, 0.99, 1.0]

R8C4_X = [10, 15, 19, 21, 24, 27, 29, 30.5, 32, 34, 36, 37.5, 40, 42, 44, 45.5, 48, 51, 55, 60, 70, 83, 102, 112]
R8C4_Y = [0.0, 0.02, 0.05, 0.1, 0.15, 0.2, 0.25, 0.3, 0.35, 0.4, 0.45, 0.5, 0.55, 0.6, 0.65, 0.7, 0.75, 0.8,
          0.85, 0.9, 0.95, 0.98, 0.99, 1.0]

R8C5_X = [0.5, 1.2, 1.6, 1.9, 2.1, 2.3, 2.5, 2.8, 3.0, 3.2, 3.4, 3.6, 3.9, 4.3, 4.8, 5.2, 5.7, 6.3, 7.1, 8.3,
          9.6, 11, 13, 15.4, 17.7, 33.7, 46.5]
R8C5_Y = [0.0, 0.05, 0.1, 0.15, 0.2, 0.25, 0.3, 0.35, 0.4, 0.45, 0.5, 0.55, 0.6, 0.65, 0.7, 0.75, 0.8, 0.85, 0.9, 0.95,
          0.98, 0.99, 0.992, 0.994, 0.996, 0.998, 1.0]

R8C6_X = [0, 0.3, 0.5, 0.62, 0.7, 0.78, 0.85, 0.92, 0.99, 1.06, 1.13, 1.2, 1.27, 1.34, 1.41, 1.55, 1.69, 1.84,
          2.12, 2.4, 2.68, 3.1, 3.67, 4.1, 4.8, 5.45, 6.13]
R8C6_Y = [0.0, 0.0, 0.02, 0.05, 0.1, 0.15, 0.2, 0.25, 0.3, 0.35, 0.4, 0.45, 0.5, 0.55, 0.6, 0.65, 0.7, 0.75,
          0.8, 0.85, 0.9, 0.95, 0.98, 0.99, 0.993, 0.996, 1.0]

SERIES = [
    (R1C1_X, R1C1_Y), (R1C2_X, R1C2_Y), (R1C3_X, R1C3_Y), (R1C4_X, R1C4_Y),
    (R1C5_X, R1C5_Y), (R1C6_X, R1C6_Y), (R1C7_X, R1C7_Y), (R1C8_X, R1C8_Y),
    (R2C1_X, R2C1_Y), (R2C2_X, R2C2_Y), (R2C3_X, R2C3_Y), (R2C4_X, R2C4_Y),
    (R2C5_X, R2C5_Y), (R2C6_X, R2C6_Y), (R2C7_X, R2C7_Y), (R2C8_X, R2C8_Y),
    (R3C1_X, R3C1_Y), (R3C2_X, R3C2_Y), (R3C3_X, R3C3_Y), (R3C4_X, R3C4_Y),
    (R3C5_X, R3C5_Y), (R3C6_X, R3C6_Y), (R3C7_X, R3C7_Y), (R3C8_X, R3C8_Y),
    (R4C1_X, R4C1_Y), (R4C2_X, R4C2_Y), (R4C3_X, R4C3_Y), (R4C4_X, R4C4_Y),
    (R4C5_X, R4C5_Y), (R4C6_X, R4C6_Y), (R4C7_X, R4C7_Y), (R4C8_X, R4C8_Y),
    (R5C1_X, R5C1_Y), (R5C2_X, R5C2_Y), (R5C3_X, R5C3_Y), (R5C4_X, R5C4_Y),
    (R5C5_X, R5C5_Y), (R5C6_X, R5C6_Y), (R5C7_X, R5C7_Y), (R5C8_X, R5C8_Y),
    (R6C1_X, R6C1_Y), (R6C2_X, R6C2_Y), (R6C3_X, R6C3_Y), (R6C4_X, R6C4_Y),
    (R6C5_X, R6C5_Y), (R6C6_X, R6C6_Y), (R6C7_X, R6C7_Y), (R6C8_X, R6C8_Y),
    (R7C1_X, R7C1_Y), (R7C2_X, R7C2_Y), (R7C3_X, R7C3_Y), (R7C4_X, R7C4_Y),
    (R7C5_X, R7C5_Y), (R7C6_X, R7C6_Y),
    (R8C1_X, R8C1_Y), (R8C2_X, R8C2_Y), (R8C3_X, R8C3_Y), (R8C4_X, R8C4_Y),
    (R8C5_X, R8C5_Y), (R8C6_X, R8C6_Y),
]

YLABEL = "累積頻度"
ROW_COUNTS = [8, 8, 8, 8, 8, 8, 6, 6]

# ---------------- LAYOUT (pixels) ----------------
W, H = 2851, 1827
COL_L = [71, 426, 782, 1134, 1493, 1844, 2193, 2544]
COL_R = [330, 686, 1042, 1391, 1746, 2097, 2449, 2813]
ROW_T = [38, 265, 495, 722, 951, 1178, 1407, 1635]
ROW_B = [170, 400, 628, 855, 1083, 1312, 1540, 1770]
FONT = "Noto Sans CJK JP, Noto Sans CJK SC, sans-serif"


def px(x):
    return x / W


def py(y):
    return 1 - y / H


positions = []
for r, n in enumerate(ROW_COUNTS):
    for c in range(n):
        positions.append((r, c))

fig = go.Figure()
layout = {}
annotations = []
shapes = []

for i, (r, c) in enumerate(positions):
    n = i + 1
    xs, ys = SERIES[i]
    xa = "x" if n == 1 else f"x{n}"
    ya = "y" if n == 1 else f"y{n}"
    L, R, T, B = COL_L[c], COL_R[c], ROW_T[r], ROW_B[r]

    fig.add_trace(go.Scatter(
        x=xs, y=ys, xaxis=xa, yaxis=ya, mode="lines+markers",
        line=dict(color="#333333", width=1.3),
        marker=dict(symbol="diamond", size=8, color="#909090",
                    line=dict(color="#222222", width=1)),
        cliponaxis=False, showlegend=False, hoverinfo="x+y",
    ))

    xaxis = dict(
        domain=[px(L), px(R)], anchor=ya, range=[0, XMAX[i]],
        tick0=0, dtick=XDTICK[i], showgrid=False, zeroline=False,
        showline=True, linecolor="#333", linewidth=1.2, mirror=True,
        ticks="outside", ticklen=3, tickcolor="#333",
        exponentformat="none",
        tickfont=dict(family=FONT, size=11, color="#111"),
        ticklabelstandoff=2, fixedrange=True,
    )
    if XDTICK[i] >= 1:
        xaxis["tickformat"] = "d"
    layout[f"xaxis{n}"] = xaxis
    layout[f"yaxis{n}"] = dict(
        domain=[py(B), py(T)], anchor=xa, range=[0, 1],
        tick0=0, dtick=0.1, showgrid=True, gridcolor="#1a1a1a", gridwidth=1.7,
        zeroline=False, showline=True, linecolor="#333", linewidth=1.2, mirror=True,
        ticks="", tickfont=dict(family=FONT, size=10.5, color="#111"),
        ticklabelstandoff=3, fixedrange=True,
    )

    cx = (L + R) / 2
    annotations.append(dict(
        text=PREFIX + TITLES[i], x=px(cx - 14), y=py(T - 17), xref="paper", yref="paper",
        showarrow=False, xanchor="center", yanchor="middle",
        font=dict(family=FONT, size=12.5, color="#111"),
    ))
    annotations.append(dict(
        text=XLABELS[i], x=px(cx), y=py(B + 38), xref="paper", yref="paper",
        showarrow=False, xanchor="center", yanchor="middle",
        font=dict(family=FONT, size=10.5, color="#111"),
    ))
    annotations.append(dict(
        text=YLABEL, x=px(L - 39), y=py((T + B) / 2), xref="paper", yref="paper",
        showarrow=False, xanchor="center", yanchor="middle", textangle=-90,
        font=dict(family=FONT, size=10, color="#111"),
    ))

# cell divider lines
H_LINES = [(3, 0, 2834), (228, 0, 2834), (455, 0, 2834), (684, 0, 2834), (910, 0, 2834),
           (1140, 0, 2834), (1368, 0, 2834), (1595, 0, 2127)]
for y, x0, x1 in H_LINES:
    shapes.append(dict(type="line", xref="paper", yref="paper", x0=px(x0), x1=px(x1), y0=py(y), y1=py(y),
                       line=dict(color="#2b2b2b", width=3)))
V_LINES = [(360, 0, 1827), (715, 0, 1827), (1069, 0, 1827), (1422, 0, 1827), (1776, 0, 1827),
           (2129, 0, 1827), (2482, 0, 1368), (2834, 0, 1368)]
for x, y0, y1 in V_LINES:
    shapes.append(dict(type="line", xref="paper", yref="paper", x0=px(x), x1=px(x), y0=py(y0), y1=py(y1),
                       line=dict(color="#555", width=1.3)))

fig.update_layout(
    width=W, height=H, margin=dict(l=0, r=0, t=0, b=0),
    paper_bgcolor="white", plot_bgcolor="white",
    annotations=annotations, shapes=shapes, showlegend=False,
    font=dict(family=FONT, color="#111"),
    **layout,
)

fig.write_html("out.html")
